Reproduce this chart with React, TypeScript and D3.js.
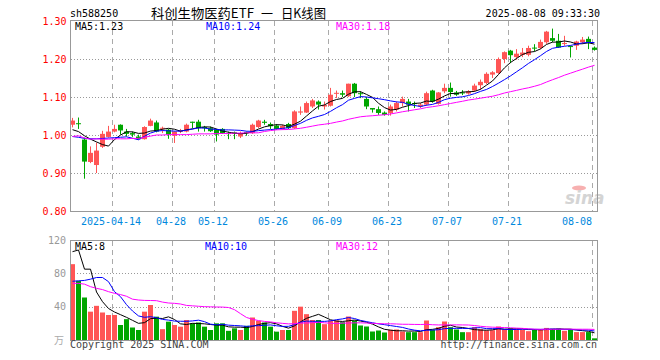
import React from 'react';
import * as d3 from 'd3';

const dates = [
  "04-02","04-03","04-07","04-08","04-09","04-10","04-11","04-14","04-15","04-16","04-17","04-18","04-21","04-22","04-23","04-24","04-25","04-28","04-29","04-30",
  "05-06","05-07","05-08","05-09","05-12","05-13","05-14","05-15","05-16","05-19","05-20","05-21","05-22","05-23","05-26","05-27","05-28","05-29","05-30",
  "06-03","06-04","06-05","06-06","06-09","06-10","06-11","06-12","06-13","06-16","06-17","06-18","06-19","06-20","06-23","06-24","06-25","06-26","06-27","06-30",
  "07-01","07-02","07-03","07-04","07-07","07-08","07-09","07-10","07-11","07-14","07-15","07-16","07-17","07-18","07-21","07-22","07-23","07-24","07-25","07-28","07-29","07-30","07-31",
  "08-01","08-04","08-05","08-06","08-07","08-08"
];

const open = [
  1.027,1.031,0.988,0.929,0.921,0.969,0.995,1.009,1.027,1.009,1.005,0.996,0.989,1.024,1.033,1.017,1.014,0.998,1.009,1.009,
  1.035,1.035,1.021,1.018,1.014,1.016,1.005,1.007,0.996,1.008,1.005,1.021,1.035,1.029,1.025,1.016,1.029,1.018,1.059,1.059,
  1.075,1.088,1.075,1.077,1.109,1.110,1.102,1.135,1.110,1.095,1.071,1.068,1.059,1.058,1.067,1.084,1.088,1.084,1.075,1.080,
  1.117,1.082,1.115,1.124,1.112,1.112,1.109,1.117,1.131,1.137,1.159,1.163,1.200,1.222,1.205,1.211,1.211,1.230,1.229,1.244,
  1.255,1.248,1.240,1.234,1.235,1.244,1.253,1.230
];
const high = [
  1.045,1.046,0.993,0.970,0.980,1.011,1.024,1.027,1.028,1.016,1.009,1.001,1.023,1.043,1.038,1.022,1.016,1.010,1.016,1.030,
  1.035,1.040,1.024,1.022,1.016,1.018,1.009,1.009,1.009,1.009,1.030,1.040,1.040,1.033,1.029,1.027,1.032,1.065,1.075,1.088,
  1.095,1.091,1.088,1.124,1.117,1.117,1.135,1.137,1.115,1.100,1.071,1.075,1.062,1.080,1.088,1.101,1.095,1.088,1.084,1.114,
  1.119,1.113,1.135,1.138,1.116,1.118,1.118,1.135,1.146,1.165,1.168,1.204,1.220,1.224,1.226,1.229,1.235,1.239,1.251,1.274,
  1.280,1.266,1.261,1.235,1.248,1.258,1.259,1.233
];
const low = [
  1.020,1.016,0.885,0.926,0.900,0.966,0.993,1.007,1.001,0.996,0.995,0.988,0.988,1.023,1.007,1.005,0.990,0.979,1.005,1.007,
  1.018,1.009,1.009,1.008,0.983,1.003,0.989,0.989,0.992,0.998,1.003,1.018,1.027,1.016,1.014,1.014,1.016,1.016,1.053,1.058,
  1.071,1.067,1.067,1.075,1.097,1.100,1.100,1.100,1.097,1.068,1.059,1.053,1.051,1.051,1.062,1.075,1.062,1.071,1.071,1.077,
  1.085,1.080,1.110,1.101,1.103,1.105,1.106,1.114,1.119,1.134,1.150,1.161,1.189,1.189,1.198,1.205,1.207,1.220,1.226,1.240,
  1.244,1.229,1.235,1.204,1.224,1.240,1.226,1.222
];
const close = [
  1.038,1.029,0.930,0.953,0.959,1.003,1.009,1.016,1.012,1.003,1.001,0.989,1.021,1.038,1.009,1.019,1.001,1.009,1.012,1.027,
  1.032,1.018,1.018,1.010,1.001,1.005,1.003,1.003,1.005,1.005,1.027,1.038,1.032,1.023,1.016,1.024,1.018,1.062,1.062,1.084,
  1.091,1.080,1.079,1.106,1.111,1.106,1.135,1.110,1.108,1.075,1.067,1.058,1.053,1.075,1.084,1.095,1.080,1.082,1.080,1.110,
  1.088,1.112,1.124,1.113,1.106,1.110,1.115,1.130,1.140,1.161,1.165,1.200,1.218,1.210,1.214,1.217,1.229,1.228,1.245,1.272,
  1.248,1.230,1.242,1.232,1.246,1.251,1.242,1.224
];
const volume = [
  91,71,51,34,41,33,30,30,18,25,15,12,34,42,28,13,22,18,16,24,
  20,21,16,12,20,20,11,14,12,17,27,23,21,16,10,12,12,35,40,31,
  24,24,19,23.4,23.4,21.4,28.2,23.4,17.4,16.2,10.2,11.4,9,12.2,12.6,10.2,9.4,9.4,9.4,23.4,
  12.2,15.4,22.2,15.4,12.6,9.4,9.4,15.4,13,11.4,11.8,16.2,12.6,14.2,12.6,12.6,10.6,12.6,12.5,14.5,
  13.5,13.5,11,12.5,9.5,9.5,9.5,2
];

// moving-average values for the days before a full window exists
const ma5Head = [1.014, 1.009, 0.998, 0.989];
const ma10Head = [0.996, 0.994, 0.991, 0.990, 0.990, 0.991, 0.992, 0.993, 0.994];
const ma30Head = [
  0.996,0.998,0.992,0.989,0.990,0.989,0.989,0.990,0.990,0.990,0.991,0.991,0.994,0.997,1.000,
  1.000,1.001,1.001,1.001,1.001,1.002,1.003,1.003,1.003,1.004,1.004,1.004,1.005,1.005
];
const vma5Head = [106, 108, 85, 85];
const vma10Head = [70.5, 71, 71.5, 73, 75, 75, 70, 58, 52];
const vma30Head = [
  68,68,67,64,62,60.5,58,56,54.5,52.5,49,48,47.5,47.4,47.2,45.5,44.4,44,43.2,41.5,
  41,40.5,40,39.8,39.6,39.5,39,36.4,31.6
];

const tickDates = ["04-14","04-28","05-12","05-26","06-09","06-23","07-07","07-21","08-08"];
const tickLabels = ["2025-04-14","04-28","05-12","05-26","06-09","06-23","07-07","07-21","08-08"];
const priceTicks = [1.3, 1.2, 1.1, 1.0, 0.9, 0.8];
const priceGrid = [1.2, 1.1, 1.0, 0.9];
const volTicks = [120, 80, 40];
const volGrid = [80, 40];
const maLabels = ["MA5:1.23", "MA10:1.24", "MA30:1.18"];
const volMaLabels = ["MA5:8", "MA10:10", "MA30:12"];
const maColors = ["#000000", "#0000ff", "#ff00ff"];
const titleParts = ["科创生物医药ETF", "一", "日K线图"];

const UP = "#ff5555";
const DOWN = "#00a600";
const MONO = "'DejaVu Sans Mono', monospace";
const CJK = "'Noto Sans CJK SC', sans-serif";

function movingAvg(vals: number[], n: number, head: number[]): number[] {
  return vals.map((_, i) => (i < n - 1 ? head[i] : (d3.mean(vals.slice(i - n + 1, i + 1)) as number)));
}

export default function App() {
  const x = d3.scaleBand<string>().domain(dates).range([70, 598]).padding(0);
  const yP = d3.scaleLinear().domain([0.8, 1.3]).range([211, 21]);
  const yV = d3.scaleLinear().domain([0, 120]).range([340, 240]);
  const cx = (d: string) => (x(d) as number) + 2.5;

  const pMA = [movingAvg(close, 5, ma5Head), movingAvg(close, 10, ma10Head), movingAvg(close, 30, ma30Head)];
  const vMA = [movingAvg(volume, 5, vma5Head), movingAvg(volume, 10, vma10Head), movingAvg(volume, 30, vma30Head)];

  const lineP = d3.line<number>().x((_, i) => cx(dates[i])).y((v) => yP(v));
  const lineV = d3.line<number>().x((_, i) => cx(dates[i])).y((v) => yV(v));

  const maLabelX = [75, 206, 336];
  const titleX = [151, 261, 281];
  const titleLen = [103, 12, 45];

  return (
    <svg width={660} height={360} viewBox="0 0 660 360" style={{ display: 'block', background: '#fff' }}>
      <style>{`body{margin:0;}`}</style>
      <rect x={0} y={0} width={660} height={360} fill="#fff" />

      {/* header */}
      <text x={70} y={17} fontFamily={MONO} fontSize={10} fill="#000">sh588250</text>
      {titleParts.map((t, k) => (
        <text key={'tt' + k} x={titleX[k]} y={18} fontFamily={CJK} fontSize={13} fill="#000"
          textLength={titleLen[k]} lengthAdjust="spacingAndGlyphs">{t}</text>
      ))}
      <text x={600} y={17} fontFamily={MONO} fontSize={10} fill="#000" textAnchor="end">2025-08-08 09:33:30</text>

      {/* grids */}
      {priceGrid.map((v) => (
        <line key={'pg' + v} x1={71} x2={597} y1={Math.round(yP(v)) + 0.5} y2={Math.round(yP(v)) + 0.5}
          stroke="#999" strokeWidth={1} strokeDasharray="1,2" />
      ))}
      {volGrid.map((v) => (
        <line key={'vg' + v} x1={71} x2={597} y1={Math.round(yV(v)) + 0.5} y2={Math.round(yV(v)) + 0.5}
          stroke="#999" strokeWidth={1} strokeDasharray="1,2" />
      ))}
      {tickDates.map((d) => (
        <g key={'vt' + d}>
          <line x1={(x(d) as number) + 0.5} x2={(x(d) as number) + 0.5} y1={21} y2={211}
            stroke="#aaa" strokeWidth={1} strokeDasharray="5,4" />
          <line x1={(x(d) as number) + 0.5} x2={(x(d) as number) + 0.5} y1={241} y2={340}
            stroke="#aaa" strokeWidth={1} strokeDasharray="5,4" />
        </g>
      ))}

      {/* watermark */}
      <ellipse cx={579} cy={188} rx={7} ry={2.5} fill="#f7b0b0" />
      <text x={565} y={204} fontFamily="'DejaVu Sans', sans-serif" fontSize={17} fontStyle="italic"
        fontWeight="bold" fill="#d4d4d4">sina</text>

      {/* candles */}
      {dates.map((d, i) => {
        const up = close[i] >= open[i];
        const c = up ? UP : DOWN;
        const yo = yP(open[i]);
        const yc = yP(close[i]);
        const top = Math.min(yo, yc);
        const h = Math.max(1, Math.abs(yo - yc));
        return (
          <g key={'c' + d}>
            <line x1={cx(d)} x2={cx(d)} y1={yP(high[i])} y2={yP(low[i])} stroke={c} strokeWidth={1} />
            <rect x={x(d) as number} y={top} width={5} height={h} fill={c} />
          </g>
        );
      })}

      {/* price MAs */}
      {pMA.map((s, k) => (
        <path key={'pm' + k} d={lineP(s) as string} fill="none" stroke={maColors[k]} strokeWidth={1} />
      ))}

      {/* volume bars */}
      {dates.map((d, i) => {
        const up = close[i] >= open[i];
        return (
          <rect key={'v' + d} x={x(d) as number} y={yV(volume[i])} width={5} height={340 - yV(volume[i])}
            fill={up ? UP : DOWN} />
        );
      })}
      {vMA.map((s, k) => (
        <path key={'vm' + k} d={lineV(s) as string} fill="none" stroke={maColors[k]} strokeWidth={1} />
      ))}

      {/* borders */}
      <rect x={70.5} y={20.5} width={527} height={191} fill="none" stroke="#999" strokeWidth={1} />
      <rect x={70.5} y={240.5} width={527} height={100} fill="none" stroke="#999" strokeWidth={1} />

      {/* MA labels */}
      {maLabels.map((t, k) => (
        <text key={'ml' + k} x={maLabelX[k]} y={29.5} fontFamily={MONO} fontSize={10} fill={maColors[k]}>{t}</text>
      ))}
      {volMaLabels.map((t, k) => (
        <text key={'vl' + k} x={maLabelX[k] - (k === 1 ? 1 : 0)} y={250} fontFamily={MONO} fontSize={10} fill={maColors[k]}>{t}</text>
      ))}

      {/* axis labels */}
      {priceTicks.map((v) => (
        <text key={'pt' + v} x={66.5} y={yP(v) + 3.5} fontFamily={MONO} fontSize={10} fill="#ff0000" textAnchor="end">
          {v.toFixed(2)}
        </text>
      ))}
      {volTicks.map((v) => (
        <text key={'vt' + v} x={66} y={yV(v) + 3.5} fontFamily={MONO} fontSize={10} fill="#999" textAnchor="end">
          {String(v)}
        </text>
      ))}
      <text x={64} y={344} fontFamily={CJK} fontSize={10} fill="#aaa" textAnchor="end">万</text>

      {tickDates.map((d, k) => {
        const last = k === tickDates.length - 1;
        return (
          <text key={'dl' + d} x={last ? 592 : (x(d) as number) - 1} y={225} fontFamily={MONO} fontSize={10}
            fill="#0088dd" textAnchor={last ? 'end' : 'middle'}>{tickLabels[k]}</text>
        );
      })}

      {/* footer */}
      <text x={70} y={348} fontFamily={MONO} fontSize={10} fill="#444">Copyright 2025 SINA.COM</text>
      <text x={597} y={348} fontFamily={MONO} fontSize={10} fill="#444" textAnchor="end">http://finance.sina.com.cn</text>
    </svg>
  );
}
